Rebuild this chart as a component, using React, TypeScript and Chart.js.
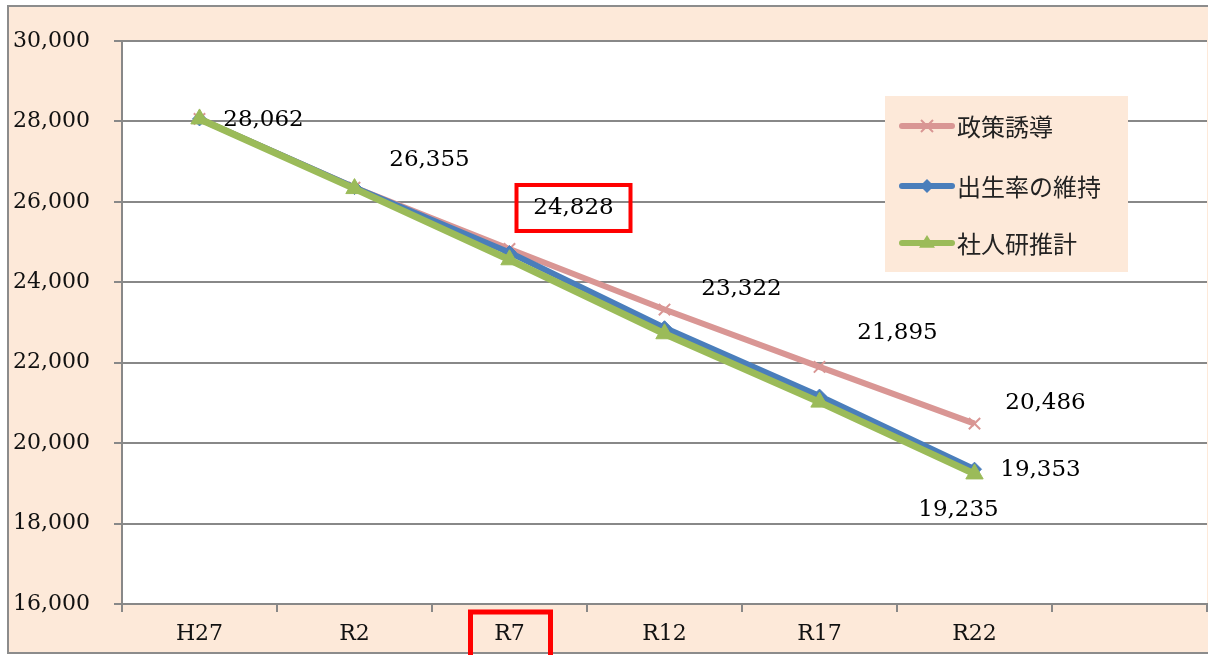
import { useEffect, useRef } from "react";
import { Chart, registerables } from "chart.js";

Chart.register(...registerables);

// ---- data ----
const categories = ["H27", "R2", "R7", "R12", "R17", "R22", ""];
const seriesNames = ["政策誘導", "出生率の維持", "社人研推計"];
const policySeries = [28062, 26355, 24828, 23322, 21895, 20486];
const birthRateSeries = [28062, 26355, 24740, 22870, 21170, 19353];
const ipssSeries = [28062, 26330, 24560, 22720, 21020, 19235];
const yMin = 16000;
const yMax = 30000;
const yStep = 2000;

// which values get a data label: [datasetIndex, pointIndex]
const labelPoints: [number, number][] = [
  [0, 0], [0, 1], [0, 2], [0, 3], [0, 4], [0, 5], [1, 5], [2, 5],
];
// label offsets (px) from the point, as placed in the original
const labelOffsets: [number, number][] = [
  [64, 1], [75, -28], [64, -41], [77, -21], [78, -34], [71, -21], [66, 1], [-16, 36],
];

const COLORS = ["#D99694", "#4A7EBB", "#9BBB59"];
const PEACH = "#FDE9D9";
const GRID = "#888888";
const SERIF = "'DejaVu Serif', serif";
const CJK = "'Noto Sans CJK JP', sans-serif";

const fmt = (v: number) => v.toLocaleString("en-US");

export default function App() {
  const ref = useRef<HTMLCanvasElement | null>(null);

  useEffect(() => {
    document.body.style.margin = "0";
    const canvas = ref.current;
    if (!canvas) return;

    const decor = {
      id: "decor",
      beforeDraw(chart: any) {
        const { ctx, chartArea: a, width, height } = chart;
        ctx.save();
        ctx.fillStyle = "#ffffff";
        ctx.fillRect(0, 0, width, height);
        ctx.fillStyle = PEACH;
        ctx.fillRect(8, 6, width - 8, height - 8);
        ctx.strokeStyle = "#8c8c8c";
        ctx.lineWidth = 2;
        ctx.strokeRect(8, 6, width + 10, height - 8);
        ctx.fillStyle = "#ffffff";
        ctx.fillRect(a.left, a.top, a.right - a.left, a.bottom - a.top);
        ctx.restore();
      },
      afterDraw(chart: any) {
        const { ctx } = chart;
        ctx.save();
        // data labels
        ctx.font = `23px ${SERIF}`;
        ctx.fillStyle = "#000000";
        ctx.textAlign = "center";
        ctx.textBaseline = "middle";
        const labelPos: { x: number; y: number }[] = [];
        labelPoints.forEach(([ds, i], k) => {
          const el = chart.getDatasetMeta(ds).data[i];
          const v = chart.data.datasets[ds].data[i] as number;
          const x = el.x + labelOffsets[k][0];
          const y = el.y + labelOffsets[k][1];
          labelPos.push({ x, y });
          ctx.fillText(fmt(v), x, y);
        });

        // legend
        const lx = 885, ly = 96, lw = 243, lh = 176;
        ctx.fillStyle = PEACH;
        ctx.fillRect(lx, ly, lw, lh);
        const rows = [126, 186, 243];
        chart.data.datasets.forEach((d: any, i: number) => {
          const y = rows[i];
          ctx.strokeStyle = d.borderColor;
          ctx.lineWidth = 6;
          ctx.lineCap = "round";
          ctx.beginPath();
          ctx.moveTo(902, y);
          ctx.lineTo(952, y);
          ctx.stroke();
          ctx.lineCap = "butt";
          const style = d.pointStyle;
          if (style === "crossRot") {
            ctx.lineWidth = 2;
            const r = 6;
            ctx.beginPath();
            ctx.moveTo(927 - r, y - r);
            ctx.lineTo(927 + r, y + r);
            ctx.moveTo(927 + r, y - r);
            ctx.lineTo(927 - r, y + r);
            ctx.stroke();
          } else if (style === "rectRot") {
            ctx.fillStyle = d.borderColor;
            const r = 7;
            ctx.beginPath();
            ctx.moveTo(927, y - r);
            ctx.lineTo(927 + r, y);
            ctx.lineTo(927, y + r);
            ctx.lineTo(927 - r, y);
            ctx.closePath();
            ctx.fill();
          } else {
            ctx.fillStyle = d.borderColor;
            const r = 8;
            ctx.beginPath();
            ctx.moveTo(927, y - r);
            ctx.lineTo(927 + r, y + r * 0.6);
            ctx.lineTo(927 - r, y + r * 0.6);
            ctx.closePath();
            ctx.fill();
          }
          ctx.fillStyle = "#222222";
          ctx.font = `24px ${CJK}`;
          ctx.textAlign = "left";
          ctx.textBaseline = "middle";
          ctx.fillText(d.label, 957, y + 1);
        });

        // red highlight boxes
        ctx.strokeStyle = "#FF0000";
        ctx.lineWidth = 4;
        const p = labelPos[2];
        ctx.strokeRect(p.x - 57, p.y - 23, 114, 46);
        const xs = chart.scales.x;
        const cx = xs.getPixelForValue(2);
        ctx.lineWidth = 5;
        ctx.strokeRect(cx - 39, 612, 80, 60);
        ctx.restore();
      },
    };

    const mk = (name: string, data: number[], color: string, style: string, r: number, w: number, order: number) => ({
      label: name,
      data,
      borderColor: color,
      backgroundColor: color,
      borderWidth: w,
      pointStyle: style,
      pointRadius: r,
      pointBorderWidth: style === "crossRot" ? 2 : 1,
      pointBackgroundColor: color,
      pointBorderColor: color,
      tension: 0,
      order,
    });

    const chart = new Chart(canvas, {
      type: "line",
      data: {
        labels: categories,
        datasets: [
          mk(seriesNames[0], policySeries, COLORS[0], "crossRot", 8, 6, 2),
          mk(seriesNames[1], birthRateSeries, COLORS[1], "rectRot", 7, 6, 1),
          mk(seriesNames[2], ipssSeries, COLORS[2], "triangle", 10, 7, 0),
        ],
      },
      options: {
        animation: false,
        responsive: false,
        layout: { autoPadding: false, padding: { top: 41, right: 1, left: 0, bottom: 0 } },
        plugins: { legend: { display: false }, tooltip: { enabled: false }, title: { display: false } },
        scales: {
          x: {
            offset: true,
            grid: { offset: true, drawOnChartArea: false, drawTicks: true, tickLength: 8, color: GRID, lineWidth: 2 },
            border: { color: GRID, width: 2 },
            ticks: { font: { family: SERIF, size: 22 }, color: "#111111", padding: 9, maxRotation: 0, autoSkip: false },
            afterFit: (s: any) => { s.height = 51; },
          },
          y: {
            min: yMin,
            max: yMax,
            ticks: {
              stepSize: yStep,
              font: { family: SERIF, size: 22 },
              color: "#111111",
              padding: 24,
              callback: (v: any) => fmt(Number(v)),
            },
            grid: { color: GRID, lineWidth: 2, tickLength: 8, drawTicks: true },
            border: { color: GRID, width: 2 },
            afterFit: (s: any) => { s.width = 122; },
          },
        },
      },
      plugins: [decor],
    });
    return () => chart.destroy();
  }, []);

  return <canvas ref={ref} width={1208} height={655} style={{ display: "block" }} />;
}
